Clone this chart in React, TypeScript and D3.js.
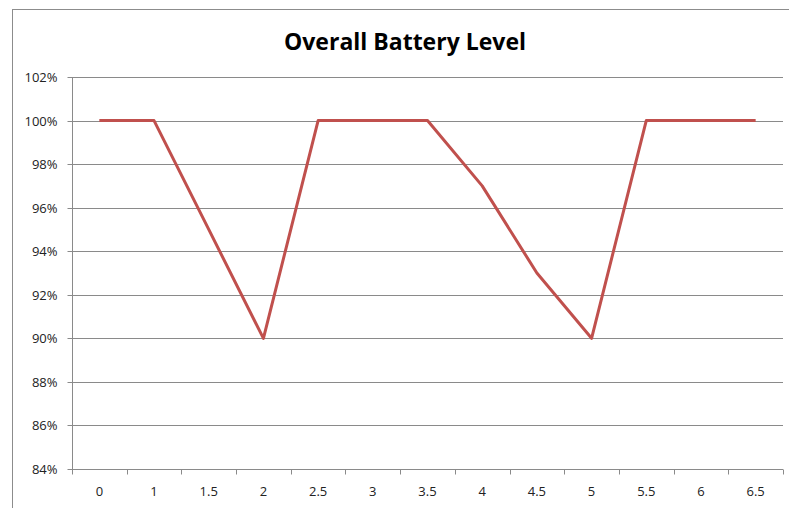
import * as d3 from 'd3';
import { useEffect, useRef } from 'react';

const categories = ['0', '1', '1.5', '2', '2.5', '3', '3.5', '4', '4.5', '5', '5.5', '6', '6.5'];
const batteryLevel = [100, 100, 95, 90, 100, 100, 100, 97, 93, 90, 100, 100, 100];
const yTicks = [84, 86, 88, 90, 92, 94, 96, 98, 100, 102];

const W = 789;
const H = 508;

export default function App() {
  const ref = useRef<SVGSVGElement>(null);

  useEffect(() => {
    const svg = d3.select(ref.current);
    svg.selectAll('*').remove();

    var margin = { top: 77, right: 6, bottom: 39, left: 72 },
      w = W - margin.left - margin.right,
      h = H - margin.top - margin.bottom;

    svg.append('rect').attr('width', W).attr('height', H).attr('fill', 'white');

    // outer chart frame
    svg
      .append('rect')
      .attr('x', 12.5)
      .attr('y', 9.5)
      .attr('width', W + 20)
      .attr('height', H + 20)
      .attr('fill', 'none')
      .attr('stroke', '#8c8c8c');

    svg
      .append('text')
      .attr('x', 405)
      .attr('y', 50)
      .attr('text-anchor', 'middle')
      .style('font-family', '"Open Sans", "Liberation Sans", sans-serif')
      .style('font-weight', 'bold')
      .style('font-size', '23px')
      .style('fill', '#000')
      .text('Overall Battery Level');

    const g = svg.append('g').attr('transform', `translate(${margin.left}, ${margin.top})`);

    const x = d3.scaleBand().domain(categories).range([0, w]).padding(0);
    const y = d3.scaleLinear().domain([84, 102]).range([h, 0]);

    // gridlines
    g.selectAll('line.grid')
      .data(yTicks)
      .join('line')
      .attr('class', 'grid')
      .attr('x1', 0)
      .attr('x2', w)
      .attr('y1', (d) => Math.round(y(d)) + 0.5)
      .attr('y2', (d) => Math.round(y(d)) + 0.5)
      .attr('stroke', '#8a8a8a')
      .attr('stroke-width', 1);

    // y axis
    const yAxis = g
      .append('g')
      .attr('transform', 'translate(0.5,0)')
      .call(
        d3
          .axisLeft(y)
          .tickValues(yTicks)
          .tickSize(5)
          .tickFormat((d) => `${d}%`)
      );
    yAxis.selectAll('.tick').attr('transform', (d: any) => `translate(0,${Math.round(y(d)) + 0.5})`);
    yAxis.select('.domain').attr('stroke', '#8a8a8a').attr('d', `M0,0.5V${h + 0.5}`);
    yAxis.selectAll('.tick line').attr('stroke', '#8a8a8a');
    yAxis
      .selectAll('.tick text')
      .attr('x', -15)
      .attr('dy', '0.35em')
      .style('font-family', '"Open Sans", "Liberation Sans", sans-serif')
      .style('font-size', '13px')
      .style('fill', '#222');

    // x axis with ticks between categories
    const xg = g.append('g').attr('transform', `translate(0, ${Math.round(h) + 0.5})`);
    xg.append('line').attr('x1', 0).attr('x2', w).attr('stroke', '#8a8a8a');
    const bounds = categories.map((c) => x(c) as number).concat([w]);
    xg.selectAll('line.tk')
      .data(bounds)
      .join('line')
      .attr('class', 'tk')
      .attr('x1', (d) => Math.round(d) + 0.5)
      .attr('x2', (d) => Math.round(d) + 0.5)
      .attr('y1', 0)
      .attr('y2', 5)
      .attr('stroke', '#8a8a8a');
    xg.selectAll('text')
      .data(categories)
      .join('text')
      .attr('x', (d) => (x(d) as number) + x.bandwidth() / 2)
      .attr('y', 26)
      .attr('text-anchor', 'middle')
      .style('font-family', '"Open Sans", "Liberation Sans", sans-serif')
      .style('font-size', '13px')
      .style('fill', '#222')
      .text((d) => d);

    // line
    const line = d3
      .line<number>()
      .x((d, i) => (x(categories[i]) as number) + x.bandwidth() / 2)
      .y((d) => y(d));
    g.append('path')
      .datum(batteryLevel)
      .attr('d', line)
      .attr('fill', 'none')
      .attr('stroke', '#c0504d')
      .attr('stroke-width', 3)
      .attr('stroke-linejoin', 'round');
  }, []);

  return <svg ref={ref} width={W} height={H} style={{ position: 'absolute', left: 0, top: 0 }}></svg>;
}
